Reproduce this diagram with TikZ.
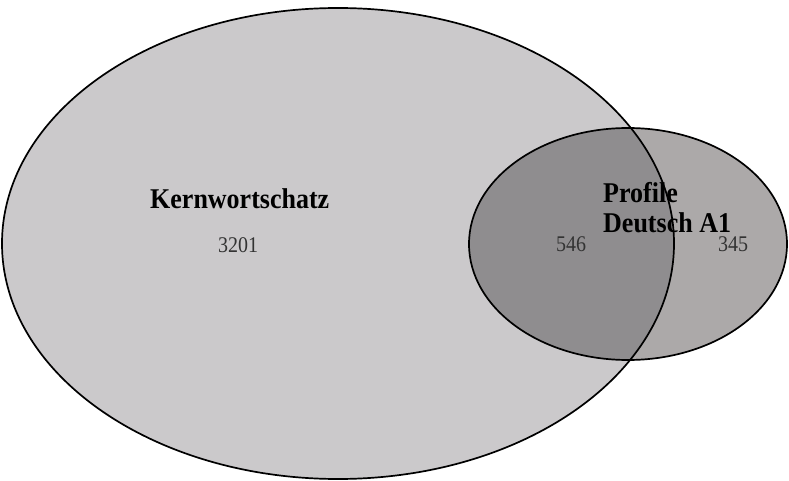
\documentclass[tikz,border=0pt]{standalone}
\usepackage{fontspec}
\setmainfont{Liberation Serif}
\definecolor{bigfill}{RGB}{203,201,203}
\definecolor{smallfill}{RGB}{172,169,169}
\definecolor{interfill}{RGB}{143,141,143}
\tikzset{
  outline/.style={draw=black, line width=1.7pt},
  titletext/.style={font=\fontsize{26}{30}\selectfont\bfseries, inner sep=0pt, anchor=base west, text=black, yscale=1.1},
  numtext/.style={font=\fontsize{20}{24}\selectfont, inner sep=0pt, anchor=base, text=black!80, yscale=1.12}
}
\begin{document}
\begin{tikzpicture}[x=1pt,y=-1pt]
\useasboundingbox (0,0) rectangle (789,481);
% fills
\fill[bigfill] (338,243.5) ellipse [x radius=336, y radius=235.5];
\fill[smallfill] (628,244) ellipse [x radius=159, y radius=116];
\begin{scope}
  \clip (338,243.5) ellipse [x radius=336, y radius=235.5];
  \fill[interfill] (628,244) ellipse [x radius=159, y radius=116];
\end{scope}
% outlines
\draw[outline] (338,243.5) ellipse [x radius=336, y radius=235.5];
\draw[outline] (628,244) ellipse [x radius=159, y radius=116];
% labels
\node[titletext] (kern) at (150,208) {Kernwortschatz};
\node[numtext] (n3201) at (238,252) {3201};
\node[titletext] (prof) at (603,202) {Profile};
\node[titletext] (deut) at (603,232) {Deutsch A1};
\node[numtext] (n546) at (571,251) {546};
\node[numtext] (n345) at (733,251) {345};
\end{tikzpicture}
\end{document}
